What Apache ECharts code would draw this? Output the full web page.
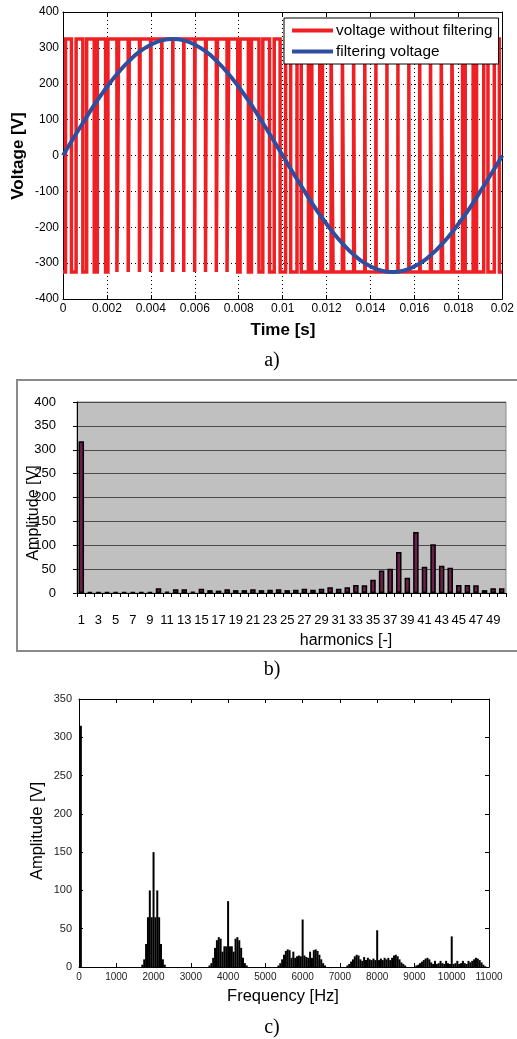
<!DOCTYPE html>
<html>
<head>
<meta charset="utf-8">
<script src="https://cdn.jsdelivr.net/npm/echarts@6/dist/echarts.min.js"></script>
<style>
  html, body { margin: 0; padding: 0; background: #fff; }
  #chart { width: 517px; height: 1039px; }
</style>
</head>
<body>
<div id="chart"></div>
<script>
// ---- a) inverter output voltage over one 50 Hz period ----
const dcLevel = 325;                 // PWM switching level [V]
const carrierPeriod = 0.0005;        // 2 kHz carrier [s]
// share of each carrier period spent at +dcLevel
const pwmDuty = [
  0.538, 0.614, 0.688, 0.756, 0.818, 0.873, 0.918, 0.953, 0.976, 0.988,
  0.988, 0.976, 0.953, 0.918, 0.873, 0.818, 0.756, 0.688, 0.614, 0.538,
  0.462, 0.386, 0.312, 0.244, 0.182, 0.127, 0.082, 0.047, 0.024, 0.012,
  0.012, 0.024, 0.047, 0.082, 0.127, 0.182, 0.244, 0.312, 0.386, 0.462
];
const filteredStep = 0.0005;         // sample spacing of the filtered trace [s]
const filteredVoltage = [
  0, 51, 100, 148, 191, 230, 263, 290, 309, 321, 325, 321, 309, 290, 263, 230, 191, 148, 100, 51,
  0, -51, -100, -148, -191, -230, -263, -290, -309, -321, -325, -321, -309, -290, -263, -230, -191, -148, -100, -51, 0
];
const timeTicks = { min: 0, max: 0.02, step: 0.002 };
const voltTicks = { min: -400, max: 400, step: 100 };

// ---- b) harmonic amplitudes ----
const harmonicOrder = Array.from({ length: 50 }, (_, i) => String(i + 1));
const harmonicAmp = [
  318, 2, 2, 2, 2, 2, 2, 2, 2, 10,
  3, 8, 8, 3, 9, 6, 5, 8, 6, 6,
  8, 6, 7, 8, 6, 7, 9, 7, 9, 12,
  9, 12, 17, 16, 28, 47, 51, 86, 32, 128,
  55, 102, 57, 53, 17, 17, 16, 6, 10, 10
];

// ---- c) amplitude spectrum, 50 Hz bins ----
const binHz = 50;
const fundamental = { hz: 50, amp: 315 };
const sideBands = [
  { startHz: 1700, amp: [3, 10, 30, 65, 100, 65, 150, 65, 100, 65, 30, 10, 3] },
  { startHz: 3500, amp: [2, 5, 12, 25, 35, 39, 37, 20, 27, 27, 86, 27, 27, 20, 37, 39, 35, 25, 12, 5, 2] },
  { startHz: 5350, amp: [2, 5, 10, 16, 21, 23, 22, 12, 20, 12, 14, 15, 14, 62, 15, 13, 12, 20, 12, 22, 23, 21, 16, 10, 5, 2] },
  { startHz: 7200, amp: [2, 4, 7, 10, 14, 16, 15, 10, 8, 13, 9, 12, 10, 9, 11, 9, 48, 9, 11, 9, 12, 10, 12, 9, 12, 15, 16, 14, 10, 6, 4, 2] },
  { startHz: 9050, amp: [2, 3, 5, 7, 9, 11, 12, 10, 6, 4, 8, 4, 5, 8, 5, 4, 8, 5, 4, 40, 4, 5, 8, 4, 5, 8, 5, 4, 8, 6, 8, 10, 12, 11, 9, 6, 3, 1] }
];

// ---- build series data ----
const pwmPoints = [[0, -dcLevel]];
pwmDuty.forEach((d, k) => {
  const c = (k + 0.5) * carrierPeriod;
  const up = c - d * carrierPeriod / 2;
  const down = c + d * carrierPeriod / 2;
  pwmPoints.push([up, -dcLevel], [up, dcLevel], [down, dcLevel], [down, -dcLevel]);
});
pwmPoints.push([timeTicks.max, -dcLevel]);

const filteredPoints = filteredVoltage.map((v, i) => [i * filteredStep, v]);

const spectrumPoints = [[fundamental.hz, fundamental.amp]];
sideBands.forEach(b => b.amp.forEach((a, i) => spectrumPoints.push([b.startHz + i * binHz, a])));

const SANS = 'Liberation Sans, Arial, Helvetica, sans-serif';
const SERIF = 'Liberation Serif, Times New Roman, serif';

const dotted = { show: true, lineStyle: { color: '#000', width: 1, type: [1, 3] } };
const blackLine = { show: true, onZero: false, lineStyle: { color: '#000', width: 1 } };
const innerTick = { show: true, inside: true, length: 4, lineStyle: { color: '#000' } };

const chart = echarts.init(document.getElementById('chart'), null, { renderer: 'canvas' });

chart.setOption({
  animation: false,
  backgroundColor: '#fff',
  grid: [
    { left: 63, top: 12, width: 441, height: 287 },
    { left: 77, top: 402, width: 429, height: 191, show: true, backgroundColor: '#c0c0c0', borderColor: '#8a8a8a', borderWidth: 1 },
    { left: 79, top: 699, width: 410, height: 268 }
  ],
  legend: {
    data: ['voltage without filtering', 'filtering voltage'],
    left: 284, top: 18,
    orient: 'vertical',
    backgroundColor: '#fff',
    borderColor: '#000', borderWidth: 1, borderRadius: 0,
    padding: [5, 6, 5, 8],
    itemGap: 6,
    itemWidth: 41, itemHeight: 4,
    icon: 'rect',
    textStyle: { fontSize: 15.4, fontFamily: SANS, color: '#000', padding: [0, 0, 0, -2] }
  },
  xAxis: [
    {
      gridIndex: 0, type: 'value', position: 'bottom',
      min: timeTicks.min, max: timeTicks.max, interval: timeTicks.step,
      axisLine: blackLine, axisTick: innerTick,
      axisLabel: { fontSize: 12, fontFamily: SANS, color: '#000', margin: 4, formatter: v => String(+v.toFixed(3)) },
      splitLine: dotted
    },
    {
      gridIndex: 0, type: 'value', position: 'top',
      min: timeTicks.min, max: timeTicks.max, interval: timeTicks.step,
      axisLine: blackLine, axisTick: innerTick,
      axisLabel: { show: false }, splitLine: { show: false }
    },
    {
      gridIndex: 1, type: 'category', data: harmonicOrder, boundaryGap: true,
      axisLine: blackLine,
      axisTick: { show: true, interval: 0, length: 4, lineStyle: { color: '#000' } },
      axisLabel: { interval: 1, fontSize: 13, fontFamily: SANS, color: '#000', margin: 21 },
      splitLine: { show: false }
    },
    {
      gridIndex: 2, type: 'value', position: 'bottom',
      min: 0, max: 11000, interval: 1000,
      axisLine: blackLine, axisTick: innerTick,
      axisLabel: { fontSize: 10, fontFamily: SANS, color: '#222', margin: 5, formatter: v => String(v) },
      splitLine: { show: false }
    },
    {
      gridIndex: 2, type: 'value', position: 'top',
      min: 0, max: 11000, interval: 1000,
      axisLine: blackLine, axisTick: innerTick,
      axisLabel: { show: false }, splitLine: { show: false }
    }
  ],
  yAxis: [
    {
      gridIndex: 0, type: 'value', position: 'left',
      min: voltTicks.min, max: voltTicks.max, interval: voltTicks.step,
      axisLine: blackLine, axisTick: innerTick,
      axisLabel: { fontSize: 12, fontFamily: SANS, color: '#000', margin: 4 },
      splitLine: dotted
    },
    {
      gridIndex: 0, type: 'value', position: 'right',
      min: voltTicks.min, max: voltTicks.max, interval: voltTicks.step,
      axisLine: blackLine, axisTick: innerTick,
      axisLabel: { show: false }, splitLine: { show: false }
    },
    {
      gridIndex: 1, type: 'value', min: 0, max: 400, interval: 50,
      axisLine: blackLine,
      axisTick: { show: true, length: 4, lineStyle: { color: '#000' } },
      axisLabel: { fontSize: 13, fontFamily: SANS, color: '#000', margin: 21 },
      splitLine: { show: true, lineStyle: { color: '#4a4a4a', width: 1 } }
    },
    {
      gridIndex: 2, type: 'value', position: 'left', min: 0, max: 350, interval: 50,
      axisLine: blackLine, axisTick: innerTick,
      axisLabel: { fontSize: 11, fontFamily: SANS, color: '#222', margin: 7 },
      splitLine: { show: false }
    },
    {
      gridIndex: 2, type: 'value', position: 'right', min: 0, max: 350, interval: 50,
      axisLine: blackLine, axisTick: innerTick,
      axisLabel: { show: false }, splitLine: { show: false }
    }
  ],
  series: [
    {
      name: 'voltage without filtering', type: 'line',
      xAxisIndex: 0, yAxisIndex: 0,
      data: pwmPoints, showSymbol: false, symbol: 'none',
      lineStyle: { color: '#ee2024', width: 3.5, join: 'miter', cap: 'butt' },
      itemStyle: { color: '#ee2024' },
      z: 2
    },
    {
      name: 'filtering voltage', type: 'line',
      xAxisIndex: 0, yAxisIndex: 0,
      data: filteredPoints, smooth: true, showSymbol: false, symbol: 'none',
      lineStyle: { color: '#2e4fa0', width: 4 },
      itemStyle: { color: '#2e4fa0' },
      z: 3
    },
    {
      name: 'harmonics', type: 'bar',
      xAxisIndex: 2, yAxisIndex: 2,
      data: harmonicAmp, barWidth: 5.5,
      itemStyle: { color: '#6e1f4a', borderColor: '#000', borderWidth: 1.5 }
    },
    {
      name: 'spectrum', type: 'bar',
      xAxisIndex: 3, yAxisIndex: 3,
      data: spectrumPoints, barWidth: 2,
      itemStyle: { color: '#000' }
    }
  ],
  graphic: [
    // axis titles of a)
    { type: 'text', x: 18, y: 156, rotation: Math.PI / 2,
      style: { text: 'Voltage [V]', font: 'bold 17px ' + SANS, fill: '#000', align: 'center', verticalAlign: 'middle' } },
    { type: 'text', x: 283, y: 330,
      style: { text: 'Time [s]', font: 'bold 17px ' + SANS, fill: '#000', align: 'center', verticalAlign: 'middle' } },
    { type: 'text', x: 272, y: 361,
      style: { text: 'a)', font: '20px ' + SERIF, fill: '#000', align: 'center', verticalAlign: 'middle' } },
    // frame and titles of b)
    { type: 'rect', shape: { x: 17, y: 380, width: 520, height: 271 },
      style: { fill: 'none', stroke: '#8a8a8a', lineWidth: 2 } },
    { type: 'text', x: 34, y: 513, rotation: Math.PI / 2,
      style: { text: 'Amplitude [V]', font: '16px ' + SANS, fill: '#000', align: 'center', verticalAlign: 'middle' } },
    { type: 'text', x: 346, y: 641,
      style: { text: 'harmonics [-]', font: '16px ' + SANS, fill: '#000', align: 'center', verticalAlign: 'middle' } },
    { type: 'text', x: 272, y: 670,
      style: { text: 'b)', font: '20px ' + SERIF, fill: '#000', align: 'center', verticalAlign: 'middle' } },
    // titles of c)
    { type: 'text', x: 37, y: 831, rotation: Math.PI / 2,
      style: { text: 'Amplitude [V]', font: '16.5px ' + SANS, fill: '#000', align: 'center', verticalAlign: 'middle' } },
    { type: 'text', x: 283, y: 996,
      style: { text: 'Frequency [Hz]', font: '16.5px ' + SANS, fill: '#000', align: 'center', verticalAlign: 'middle' } },
    { type: 'text', x: 272, y: 1028,
      style: { text: 'c)', font: '20px ' + SERIF, fill: '#000', align: 'center', verticalAlign: 'middle' } }
  ]
});
</script>
</body>
</html>
